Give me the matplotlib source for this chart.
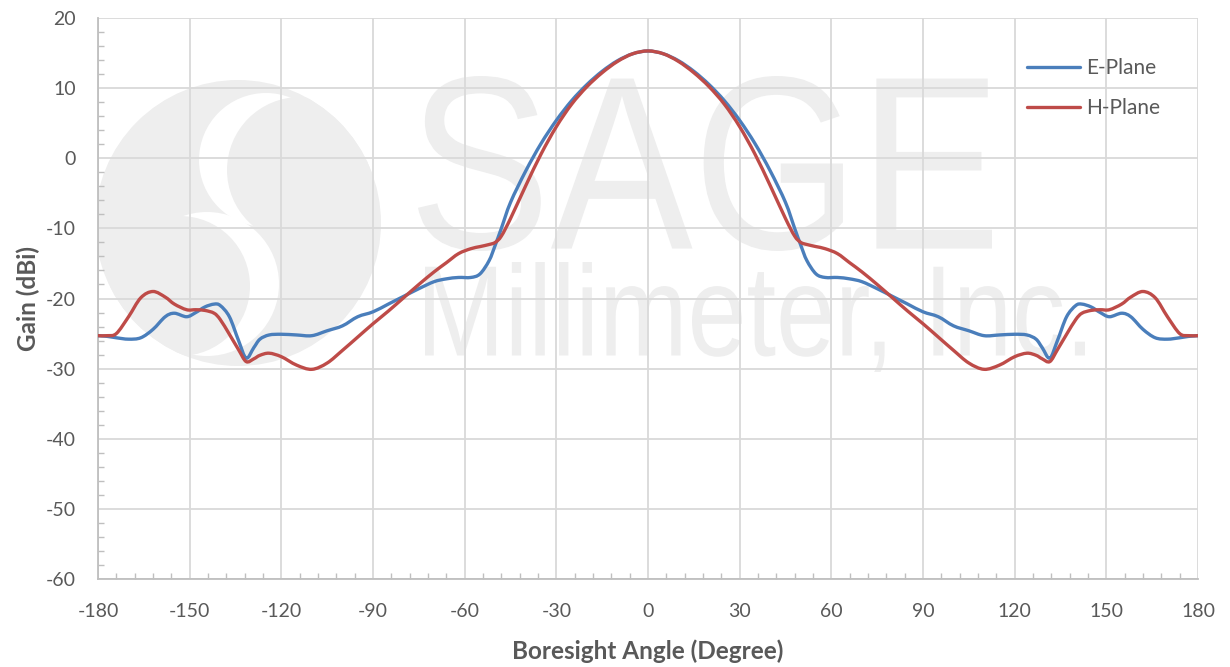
import matplotlib
matplotlib.use("Agg")
import matplotlib.pyplot as plt
from matplotlib.path import Path
from matplotlib.patches import PathPatch, Circle
from matplotlib.lines import Line2D
from matplotlib.textpath import TextPath
from matplotlib.font_manager import FontProperties
from matplotlib.transforms import Affine2D, IdentityTransform
from matplotlib.ticker import MultipleLocator
import numpy as np

# ---------------- data ----------------
angle_deg = [-180, -177, -174, -170, -166, -162, -158, -155, -151, -148, -145, -142, -140,
             -137, -134, -131.5, -129, -127, -124, -120, -115, -110, -105, -100, -95, -90,
             -85, -80, -75, -70, -66, -62, -58, -55, -52, -50, -48, -45, -40, -35, -30,
             -25, -20, -15, -10, -5, 0, 5, 10, 15, 20, 25, 30, 35, 40, 45, 48, 50, 52,
             55, 58, 62, 66, 70, 75, 80, 85, 90, 95, 100, 105, 110, 115, 120, 124, 127,
             129, 131.5, 134, 137, 140, 142, 145, 148, 151, 155, 158, 162, 166, 170,
             174, 177, 180]

e_plane = [-25.3, -25.4, -25.6, -25.8, -25.6, -24.4, -22.6, -22.1, -22.6, -22.0, -21.2, -20.8, -21.0,
           -22.6, -26.0, -28.5, -27.0, -25.8, -25.2, -25.1, -25.2, -25.3, -24.6, -23.9, -22.6, -21.9,
           -20.8, -19.7, -18.6, -17.6, -17.2, -17.0, -17.0, -16.5, -14.6, -12.4, -10.0, -6.3, -1.8, 2.1, 5.4,
           8.2, 10.5, 12.4, 13.9, 14.9, 15.3, 14.9, 13.9, 12.4, 10.5, 8.2, 5.4, 2.1, -1.8, -6.3, -10.0, -12.4, -14.6,
           -16.5, -17.0, -17.0, -17.2, -17.6, -18.6, -19.7, -20.8, -21.9, -22.6, -23.9, -24.6, -25.3, -25.2, -25.1, -25.2, -25.8,
           -27.0, -28.5, -26.0, -22.6, -21.0, -20.8, -21.2, -22.0, -22.6, -22.1, -22.6, -24.4, -25.6, -25.8,
           -25.6, -25.4, -25.3]

h_plane = [-25.3, -25.3, -25.0, -22.6, -19.9, -19.0, -19.8, -20.8, -21.6, -21.6, -21.7, -22.1, -23.0,
           -25.1, -27.3, -29.0, -28.6, -28.1, -27.8, -28.3, -29.5, -30.1, -29.2, -27.4, -25.5, -23.6,
           -21.8, -19.9, -18.0, -16.2, -14.9, -13.6, -12.9, -12.6, -12.3, -12.0, -11.1, -8.6, -3.9, 0.6, 4.5,
           7.7, 10.2, 12.2, 13.8, 14.9, 15.3, 14.9, 13.8, 12.2, 10.2, 7.7, 4.5, 0.6, -3.9, -8.6, -11.1, -12.0, -12.3,
           -12.6, -12.9, -13.6, -14.9, -16.2, -18.0, -19.9, -21.8, -23.6, -25.5, -27.4, -29.2, -30.1, -29.5, -28.3, -27.8, -28.1,
           -28.6, -29.0, -27.3, -25.1, -23.0, -22.1, -21.7, -21.6, -21.6, -20.8, -19.8, -19.0, -19.9, -22.6,
           -25.0, -25.3, -25.3]

series_names = ["E-Plane", "H-Plane"]
x_ticks = [-180, -150, -120, -90, -60, -30, 0, 30, 60, 90, 120, 150, 180]
y_ticks = [-60, -50, -40, -30, -20, -10, 0, 10, 20]
x_label = "Boresight Angle (Degree)"
y_label = "Gain (dBi)"

# ---------------- style ----------------
W, H = 1230, 667
BLUE = "#4A7EBB"
RED = "#BE4B48"
TXT = "#595959"
GRID = "#D9D9D9"
AXC = "#BFBFBF"
WM = "#EEEEEE"
FONT = ["Lato", "DejaVu Sans"]

plt.rcParams["font.family"] = FONT
plt.rcParams["axes.unicode_minus"] = False

fig = plt.figure(figsize=(W / 100, H / 100), dpi=100)
ax = fig.add_axes([98 / W, 1 - 579 / H, 1100 / W, 561 / H])
ax.set_xlim(-180, 180)
ax.set_ylim(-60, 20)


def smooth_path(xs, ys):
    pts = np.column_stack([xs, ys]).astype(float)
    n = len(pts)
    verts = [pts[0]]
    codes = [Path.MOVETO]
    for i in range(n - 1):
        p0 = pts[i - 1] if i > 0 else pts[i]
        p1 = pts[i]
        p2 = pts[i + 1]
        p3 = pts[i + 2] if i + 2 < n else pts[i + 1]
        c1 = p1 + (p2 - p0) / 6.0
        c2 = p2 - (p3 - p1) / 6.0
        verts += [c1, c2, p2]
        codes += [Path.CURVE4] * 3
    return Path(np.array(verts), codes)


# ---------------- watermark (background logo) ----------------
def px(x, y):
    return (x, H - y)

idt = IdentityTransform()
big = Circle(px(238, 223), 143, transform=idt, facecolor=WM, edgecolor="none", zorder=0.1)
ax.add_patch(big)
for (cx, cy, r, col) in [(266, 160, 67, "white"), (300, 170, 73, WM),
                         (207, 284, 72, "white"), (180, 286, 70, WM)]:
    c = Circle(px(cx, cy), r, transform=idt, facecolor=col, edgecolor="none", zorder=0.12)
    ax.add_patch(c)
    c.set_clip_path(big)


def fit_text(s, x0, y0, x1, y1):
    tp = TextPath((0, 0), s, size=100, prop=FontProperties(family="Liberation Sans"))
    ext = tp.get_extents()
    sx = (x1 - x0) / ext.width
    sy = (y1 - y0) / ext.height
    tr = Affine2D().translate(-ext.x0, -ext.y0).scale(sx, sy).translate(x0, H - y1)
    p = tr.transform_path(tp)
    ax.add_patch(PathPatch(p, transform=idt, facecolor=WM, edgecolor="none", zorder=0.13))


fit_text("SAGE", 418, 76, 992, 251)
fit_text("Millimeter, Inc.", 425, 262, 1085, 372)

# ---------------- grid / axes ----------------
ax.set_axisbelow(True)
ax.grid(True, which="major", color=GRID, linewidth=1.3, zorder=0.5)
ax.set_xticks(x_ticks)
ax.set_yticks(y_ticks)
ax.xaxis.set_minor_locator(MultipleLocator(6))
ax.yaxis.set_minor_locator(MultipleLocator(2))
ax.tick_params(which="major", length=0, labelsize=14, labelcolor=TXT)
ax.tick_params(axis="x", which="major", pad=17)
ax.tick_params(axis="y", which="major", pad=16)
ax.tick_params(which="minor", direction="in", length=4, width=1, color=AXC)
for s in ["top", "right"]:
    ax.spines[s].set_visible(False)
for s in ["left", "bottom"]:
    ax.spines[s].set_color(AXC)
    ax.spines[s].set_linewidth(1.3)

ax.set_xlabel(x_label, fontsize=17.5, fontweight="bold", color=TXT, labelpad=14)
ax.set_ylabel(y_label, fontsize=17.5, fontweight="bold", color=TXT, labelpad=4)

# ---------------- curves ----------------
for ys, col in [(e_plane, BLUE), (h_plane, RED)]:
    ax.add_patch(PathPatch(smooth_path(angle_deg, ys), facecolor="none", edgecolor=col,
                           linewidth=2.4, capstyle="round", joinstyle="round", zorder=3))

handles = [Line2D([], [], color=BLUE, lw=2.4, solid_capstyle="round"),
           Line2D([], [], color=RED, lw=2.4, solid_capstyle="round")]
leg = ax.legend(handles, series_names, loc="upper left", bbox_to_anchor=(1017 / W, 1 - 48 / H),
                bbox_transform=fig.transFigure, frameon=False, fontsize=15,
                handlelength=2.5, handletextpad=0.3, labelspacing=0.95, borderpad=0)
for t in leg.get_texts():
    t.set_color(TXT)

fig.savefig("out.png", dpi=100, facecolor="white")
